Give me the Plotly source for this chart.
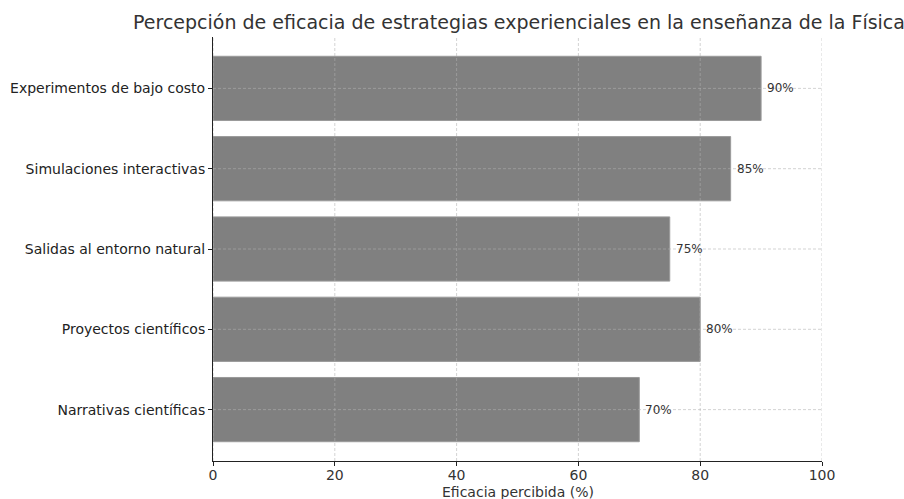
import plotly.graph_objects as go

categories = ["Experimentos de bajo costo", "Simulaciones interactivas",
              "Salidas al entorno natural", "Proyectos científicos",
              "Narrativas científicas"]
values = [90, 85, 75, 80, 70]
x_ticks = [0, 20, 40, 60, 80, 100]
labels = [f"{v}%" for v in values]

FONT = "DejaVu Sans"
W, H = 904, 499
fig = go.Figure()
fig.add_trace(go.Bar(
    y=categories, x=values, orientation="h", width=0.8,
    marker=dict(color="#808080", line=dict(color="#9a9a9a", width=1)),
    hoverinfo="skip", showlegend=False,
))

grid_line = dict(color="rgba(176,176,176,0.7)", width=0.8, dash="3px,2px")
for t in x_ticks:
    fig.add_shape(type="line", xref="x", yref="paper", x0=t, x1=t, y0=0, y1=1,
                  line=grid_line, layer="above")
for i, c in enumerate(categories):
    fig.add_shape(type="line", xref="paper", yref="y", x0=0, x1=1, y0=i, y1=i,
                  line=grid_line, layer="above")

for c, v, lab in zip(categories, values, labels):
    fig.add_annotation(x=v, y=c, text=lab, showarrow=False, xanchor="left",
                       xshift=4, font=dict(family=FONT, size=12, color="#333333"))

# x-axis title
fig.add_annotation(x=0.5, xref="paper", y=-(492 - 461) / (461 - 37), yref="paper",
                   text="Eficacia percibida (%)", showarrow=False,
                   xanchor="center", yanchor="middle",
                   font=dict(family=FONT, size=14, color="#333333"))

fig.update_layout(
    width=W, height=H,
    margin=dict(l=213, r=82, t=37, b=38),
    plot_bgcolor="white", paper_bgcolor="white",
    font=dict(family=FONT, size=14, color="#222222"),
    title=dict(text="Percepción de eficacia de estrategias experienciales en la enseñanza de la Física",
               x=519 / W, xanchor="center", y=1 - 22 / H, yanchor="middle",
               font=dict(family=FONT, size=19, color="#333333")),
    xaxis=dict(range=[0, 100], tickvals=x_ticks, showgrid=False, zeroline=False,
               showline=True, linecolor="#222222", linewidth=1, mirror=False,
               ticks="outside", ticklen=4, tickcolor="#222222", automargin=False,
               ticklabelstandoff=-3,
               tickfont=dict(size=14, color="#333333")),
    yaxis=dict(type="category", categoryarray=categories, categoryorder="array",
               range=[4.64, -0.64], showgrid=False, zeroline=False,
               showline=True, linecolor="#222222", linewidth=1, mirror=False,
               ticks="outside", ticklen=4, tickcolor="#222222", automargin=False,
               tickfont=dict(size=14, color="#222222")),
    bargap=0.2,
)
fig.write_html("out.html")
